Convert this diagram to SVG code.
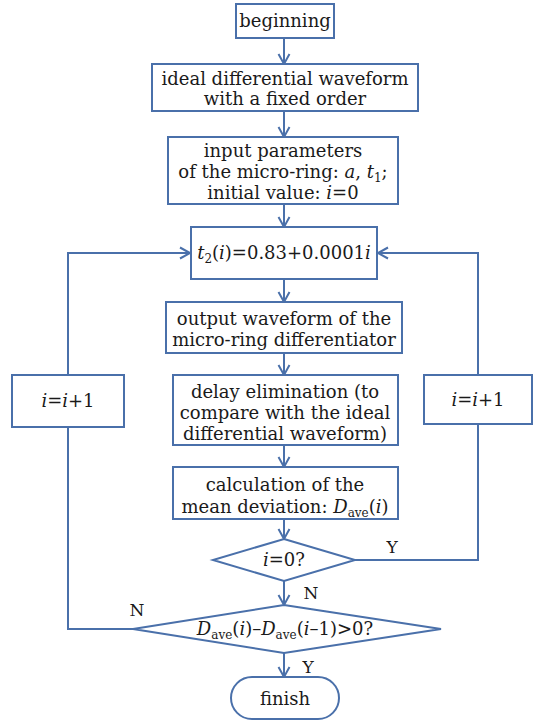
<svg xmlns="http://www.w3.org/2000/svg" width="547" height="723" viewBox="0 0 547 723">
<style>
.n{fill:#fff;stroke:#4a70aa;stroke-width:2}
.c{fill:none;stroke:#4a70aa;stroke-width:2}
text{font-family:"DejaVu Serif","Liberation Serif",serif;font-size:18px;fill:#1a1a1a;text-anchor:middle}
.i{font-style:italic}
.s{font-size:12px}
.l{font-size:17px}
</style>
<defs>
<marker id="a" markerUnits="userSpaceOnUse" markerWidth="14" markerHeight="14" refX="11" refY="7" orient="auto">
<path d="M1,1.5 L11,7 L1,12.5" fill="none" stroke="#4a70aa" stroke-width="2"/>
</marker>
</defs>
<rect width="547" height="723" fill="#fff"/>
<g id="connectors">
<line class="c" x1="284" y1="38" x2="284" y2="64" marker-end="url(#a)"/>
<line class="c" x1="284" y1="111" x2="284" y2="137" marker-end="url(#a)"/>
<line class="c" x1="284" y1="204" x2="284" y2="227" marker-end="url(#a)"/>
<line class="c" x1="284" y1="279" x2="284" y2="302" marker-end="url(#a)"/>
<line class="c" x1="284" y1="353" x2="284" y2="375" marker-end="url(#a)"/>
<line class="c" x1="284" y1="445" x2="284" y2="467" marker-end="url(#a)"/>
<line class="c" x1="284" y1="519" x2="284" y2="539" marker-end="url(#a)"/>
<line class="c" x1="284" y1="581" x2="284" y2="605" marker-end="url(#a)"/>
<line class="c" x1="284" y1="653" x2="284" y2="677" marker-end="url(#a)"/>
<polyline class="c" points="355,560 478,560 478,424"/>
<polyline class="c" points="478,375 478,253 378,253" marker-end="url(#a)"/>
<polyline class="c" points="133,629 68,629 68,427"/>
<polyline class="c" points="68,375 68,253 190,253" marker-end="url(#a)"/>
<text class="l" x="392" y="553">Y</text>
<text class="l" x="311" y="599">N</text>
<text class="l" x="137" y="616">N</text>
<text class="l" x="308" y="673">Y</text>
</g>
<g id="beginning">
<rect class="n" x="236" y="4" width="98" height="34"/>
<text x="285" y="27">beginning</text>
</g>
<g id="ideal">
<rect class="n" x="152" y="64" width="266" height="47"/>
<text x="285" y="85">ideal differential waveform</text>
<text x="285" y="105">with a fixed order</text>
</g>
<g id="input">
<rect class="n" x="168" y="137" width="230" height="67"/>
<text x="283" y="157">input parameters</text>
<text x="283" y="178">of the micro-ring: <tspan class="i">a</tspan>, <tspan class="i">t</tspan><tspan class="s" dy="4">1</tspan><tspan dy="-4">;</tspan></text>
<text x="283" y="199">initial value: <tspan class="i">i</tspan>=0</text>
</g>
<g id="t2">
<rect class="n" x="191" y="227" width="186" height="52"/>
<text x="284" y="259"><tspan class="i">t</tspan><tspan class="s" dy="4">2</tspan><tspan dy="-4">(</tspan><tspan class="i">i</tspan>)=0.83+0.0001<tspan class="i">i</tspan></text>
</g>
<g id="output">
<rect class="n" x="166" y="302" width="236" height="51"/>
<text x="284" y="325">output waveform of the</text>
<text x="284" y="346">micro-ring differentiator</text>
</g>
<g id="delay">
<rect class="n" x="173" y="375" width="225" height="70"/>
<text x="285" y="398">delay elimination (to</text>
<text x="285" y="419">compare with the ideal</text>
<text x="285" y="440">differential waveform)</text>
</g>
<g id="calc">
<rect class="n" x="173" y="467" width="225" height="52"/>
<text x="285" y="491">calculation of the</text>
<text x="285" y="513">mean deviation: <tspan class="i">D</tspan><tspan class="s" dy="4">ave</tspan><tspan dy="-4">(</tspan><tspan class="i">i</tspan>)</text>
</g>
<g id="dec1">
<polygon class="n" points="284,539 355,560 284,581 213,560"/>
<text x="284" y="566"><tspan class="i">i</tspan>=0?</text>
</g>
<g id="dec2">
<polygon class="n" points="284,605 441,629 284,653 133,629"/>
<text x="285" y="635"><tspan class="i">D</tspan><tspan class="s" dy="4">ave</tspan><tspan dy="-4">(</tspan><tspan class="i">i</tspan>)–<tspan class="i">D</tspan><tspan class="s" dy="4">ave</tspan><tspan dy="-4">(</tspan><tspan class="i">i</tspan>–1)&gt;0?</text>
</g>
<g id="finish">
<rect class="n" x="231" y="677" width="108" height="42" rx="21"/>
<text x="285" y="705">finish</text>
</g>
<g id="incL">
<rect class="n" x="12" y="375" width="112" height="52"/>
<text x="68" y="407"><tspan class="i">i</tspan>=<tspan class="i">i</tspan>+1</text>
</g>
<g id="incR">
<rect class="n" x="424" y="375" width="108" height="49"/>
<text x="478" y="406"><tspan class="i">i</tspan>=<tspan class="i">i</tspan>+1</text>
</g>
</svg>
